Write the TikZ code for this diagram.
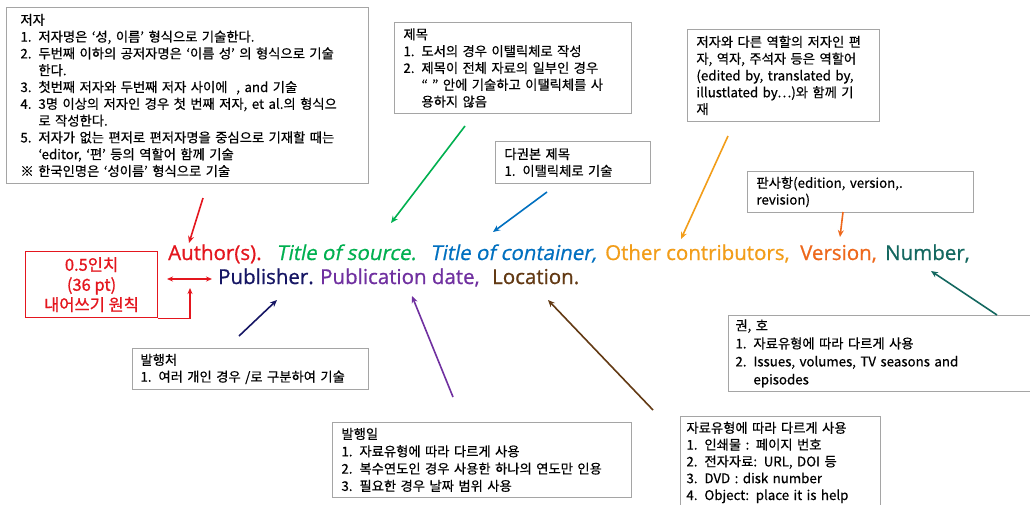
\documentclass[tikz,border=0pt]{standalone}
\usepackage{fontspec}
\usetikzlibrary{arrows.meta}
\newfontfamily\krf[FakeBold=0.5]{Noto Sans CJK KR}
\newfontfamily\krr[FakeBold=0.9]{Noto Sans CJK KR}
\newfontfamily\latf[FakeBold=0.8]{Open Sans}
\newfontfamily\latsl[FakeSlant=0.2,FakeBold=0.8]{Open Sans}
\definecolor{cAu}{RGB}{228,22,30}
\definecolor{cTs}{RGB}{0,176,80}
\definecolor{cTc}{RGB}{0,112,192}
\definecolor{cOc}{RGB}{242,157,25}
\definecolor{cVe}{RGB}{238,104,28}
\definecolor{cNu}{RGB}{20,104,96}
\definecolor{cPu}{RGB}{22,22,100}
\definecolor{cPd}{RGB}{112,48,160}
\definecolor{cLo}{RGB}{99,58,20}
\definecolor{boxgray}{RGB}{165,165,165}
\newcommand\itm[1]{\makebox[18pt][l]{#1}}
\newcommand\cnt{\hspace*{18pt}}
\begin{document}
\begin{tikzpicture}[x=1pt,y=-1pt,
  note/.style={draw=boxgray, line width=0.9pt, anchor=north west, align=left,
    inner xsep=9pt, inner ysep=0pt, font=\krf\fontsize{13.3}{16.8}\selectfont},
  mainseg/.style={anchor=base west, inner sep=0pt, font=\latf\fontsize{20.5}{24}\selectfont},
  slseg/.style={anchor=base west, inner sep=0pt, font=\latsl\fontsize{20.5}{24}\selectfont},
  arr/.style={line width=1.6pt, -{Stealth[length=7pt,width=6pt]}},
  thinarr/.style={line width=1.1pt, draw=cAu}]
\clip (0,0) rectangle (1030,504);
\fill[white] (0,0) rectangle (1030,504);

% main citation line
\node[mainseg, text=cAu] (au) at (168,260) {Author(s).};
\node[slseg, text=cTs] (ts) at (276,260) {Title of source.};
\node[slseg, text=cTc] (tc) at (430,260) {Title of container,};
\node[mainseg, text=cOc] (oc) at (605,260) {Other contributors,};
\node[mainseg, text=cVe] (ve) at (800,260) {Version,};
\node[mainseg, text=cNu] (nu) at (885,260) {Number,};
\node[mainseg, text=cPu] (pu) at (218,284) {Publisher.};
\node[mainseg, text=cPd] (pd) at (320,284) {Publication date,};
\node[mainseg, text=cLo] (lo) at (492,284) {Location.};

% boxes
\node[note, inner xsep=14pt, text width=334pt, minimum height=176pt] (b1) at (6,7) {%
저자\\
\itm{1.}저자명은 ‘성, 이름’ 형식으로 기술한다.\\
\itm{2.}두번째 이하의 공저자명은 ‘이름 성’ 의 형식으로 기술\\
\cnt 한다.\\
\itm{3.}첫번째 저자와 두번째 저자 사이에 \ , and 기술\\
\itm{4.}3명 이상의 저자인 경우 첫 번째 저자, et al.의 형식으\\
\cnt 로 작성한다.\\
\itm{5.}저자가 없는 편저로 편저자명을 중심으로 기재할 때는\\
\cnt ‘editor, ‘편’ 등의 역할어 함께 기술\\
※ 한국인명은 ‘성이름’ 형식으로 기술};

\node[note, text width=219pt, minimum height=91pt] (b2) at (394,22) {%
제목\\
\itm{1.}도서의 경우 이탤릭체로 작성\\
\itm{2.}제목이 전체 자료의 일부인 경우\\
\cnt “ ” 안에 기술하고 이탤릭체를 사\\
\cnt 용하지 않음};

\node[note, text width=137pt, minimum height=42pt] (b3) at (495,141) {%
다권본 제목\\
\itm{1.}이탤릭체로 기술};

\node[note, text width=174pt, minimum height=92pt] (b4) at (687,29) {%
저자와 다른 역할의 저자인 편\\
자, 역자, 주석자 등은 역할어\\
(edited by, translated by,\\
illustlated by…)와 함께 기\\
재};

\node[note, text width=208pt, minimum height=41pt] (b5) at (747,171) {%
판사항(edition, version,.\\
revision)};

\node[note, inner xsep=7pt, text width=288pt, minimum height=76pt,
  font=\krf\fontsize{13.3}{18}\selectfont] (b6) at (728,315) {%
권, 호\\
\itm{1.}자료유형에 따라 다르게 사용\\
\itm{2.}Issues, volumes, TV seasons and\\
\cnt episodes};

\node[note, inner xsep=6pt, text width=188pt, minimum height=92pt] (b7) at (680,416) {%
자료유형에 따라 다르게 사용\\
\itm{1.}인쇄물 : 페이지 번호\\
\itm{2.}전자자료: URL, DOI 등\\
\itm{3.}DVD : disk number\\
\itm{4.}Object: place it is help};

\node[note, inner xsep=8pt, text width=220pt, minimum height=41pt] (b8) at (132,348) {%
발행처\\
\itm{1.}여러 개인 경우 /로 구분하여 기술};

\node[note, text width=281pt, minimum height=75pt,
  font=\krf\fontsize{13.3}{17.3}\selectfont] (b9) at (332,422) {%
발행일\\
\itm{1.}자료유형에 따라 다르게 사용\\
\itm{2.}복수연도인 경우 사용한 하나의 연도만 인용\\
\itm{3.}필요한 경우 날짜 범위 사용};

\node[draw=cAu, line width=1.1pt, anchor=north west, align=center, inner sep=0pt,
  minimum width=132pt, minimum height=66pt, text=cAu,
  font=\krr\fontsize{16.5}{20}\selectfont] (indent) at (25,251) {%
0.5인치\\(36 pt)\\내어쓰기 원칙};

% connector end points
\coordinate (a1s) at (203,198); \coordinate (a1e) at (189,243);
\coordinate (a2s) at (465,126); \coordinate (a2e) at (391,223);
\coordinate (a3s) at (547,192); \coordinate (a3e) at (493,232);
\coordinate (a4s) at (728,136); \coordinate (a4e) at (681,239);
\coordinate (a5s) at (843,212); \coordinate (a5e) at (840,237);
\coordinate (a6s) at (997,315); \coordinate (a6e) at (931,271);
\coordinate (a7s) at (239,336); \coordinate (a7e) at (277,300);
\coordinate (a8s) at (453,397); \coordinate (a8e) at (412,296);
\coordinate (a9s) at (653,410); \coordinate (a9e) at (548,300);
\coordinate (dl) at (167,279); \coordinate (dr) at (212,279);
\coordinate (lt) at (190,288);

\draw[arr, draw=cAu] (a1s) -- (a1e);
\draw[arr, draw=cTs] (a2s) -- (a2e);
\draw[arr, draw=cTc] (a3s) -- (a3e);
\draw[arr, draw=cOc] (a4s) -- (a4e);
\draw[arr, draw=cVe] (a5s) -- (a5e);
\draw[arr, draw=cNu] (a6s) -- (a6e);
\draw[arr, draw=cPu] (a7s) -- (a7e);
\draw[arr, draw=cPd] (a8s) -- (a8e);
\draw[arr, draw=cLo] (a9s) -- (a9e);
\draw[thinarr, {Stealth[length=6pt,width=5pt]}-{Stealth[length=6pt,width=5pt]}] (dl) -- (dr);
\draw[thinarr, -{Stealth[length=6pt,width=5pt]}] (indent.south east) -| (lt);
\end{tikzpicture}
\end{document}
